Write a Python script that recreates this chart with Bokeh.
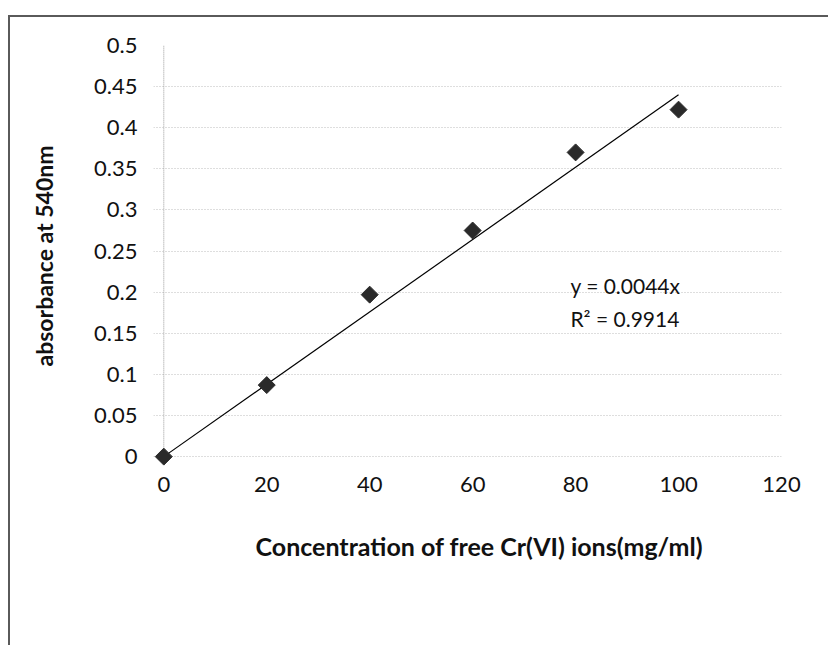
import math
from bokeh.plotting import figure
from bokeh.models import FixedTicker, Label, Title
from bokeh.embed import file_html
from bokeh.resources import INLINE

# Calibration data: Cr(VI) concentration vs absorbance
concentration = [0, 20, 40, 60, 80, 100]
absorbance = [0.0, 0.087, 0.197, 0.275, 0.370, 0.422]

# Linear fit through origin
slope = 0.0044
r_squared = 0.9914
fit_x = [0, 100]
fit_y = [slope * v for v in fit_x]

x_ticks = [0, 20, 40, 60, 80, 100, 120]
y_ticks = [0, 0.05, 0.1, 0.15, 0.2, 0.25, 0.3, 0.35, 0.4, 0.45, 0.5]

x_title = "Concentration of free Cr(VI) ions(mg/ml)"
y_title = "absorbance at 540nm"

FONT = "Lato"

# Ranges start slightly below zero so the marker at the origin is not clipped;
# the zero lines are drawn separately as dotted axis lines.
p = figure(width=828, height=645, x_range=(-2, 120), y_range=(-0.012, 0.5),
           output_backend="svg", toolbar_location=None,
           min_border_left=153, min_border_right=47, min_border_top=45, min_border_bottom=179)
p.outline_line_color = None
p.background_fill_color = "white"
# Transparent border area so the chart-area rules painted behind it show through
p.border_fill_alpha = 0
p.styles = {
    "background": ("linear-gradient(#5a5a5a, #5a5a5a) 8px 15px / 820px 2px no-repeat, "
                   "linear-gradient(#5a5a5a, #5a5a5a) 8px 15px / 2px 630px no-repeat, "
                   "white"),
}

# Gridlines: dotted horizontal only
p.xgrid.grid_line_color = None
p.ygrid.grid_line_color = "#bdbdbd"
p.ygrid.grid_line_dash = "1 2"
p.ygrid.grid_line_width = 1

for ax in (p.xaxis[0], p.yaxis[0]):
    ax.axis_line_color = None
    ax.major_tick_line_color = None
    ax.major_tick_in = 0
    ax.major_tick_out = 0
    ax.minor_tick_line_color = None
    ax.major_label_text_font = FONT
    ax.major_label_text_font_size = "22px"
    ax.major_label_text_color = "#111111"
    ax.axis_label_text_font = FONT
    ax.axis_label_text_font_style = "bold"
    ax.axis_label_text_color = "#111111"

p.yaxis.axis_label_text_font_size = "23px"
p.xaxis.ticker = FixedTicker(ticks=x_ticks)
p.yaxis.ticker = FixedTicker(ticks=y_ticks)
p.xaxis.major_label_standoff = 10
p.yaxis.major_label_standoff = 16
p.yaxis.axis_label = y_title
p.yaxis.axis_label_standoff = 33

# Horizontal axis title, placed beneath the tick labels
p.add_layout(Title(text=x_title, align="left", offset=102, standoff=68,
                   text_font=FONT, text_font_style="bold", text_font_size="25px",
                   text_color="#111111"), "below")

# Dotted vertical axis line at x = 0
p.segment(x0=[0], y0=[0], x1=[0], y1=[0.5], line_color="#9a9a9a",
          line_dash="1 1", line_width=1)

# Trend line and measured points
p.line(fit_x, fit_y, line_color="black", line_width=1.2)
p.scatter(concentration, absorbance, marker="square", angle=math.pi / 4, size=12,
          fill_color="#2a2a2a", line_color="#2a2a2a")

p.add_layout(Label(x=79, y=0.208, text=f"y = {slope}x", text_font=FONT,
                   text_font_size="21px", text_baseline="middle", text_color="#111111"))
p.add_layout(Label(x=79, y=0.168, text=f"R² = {r_squared}", text_font=FONT,
                   text_font_size="21px", text_baseline="middle", text_color="#111111"))

open("out.html", "w").write(file_html(p, INLINE))
